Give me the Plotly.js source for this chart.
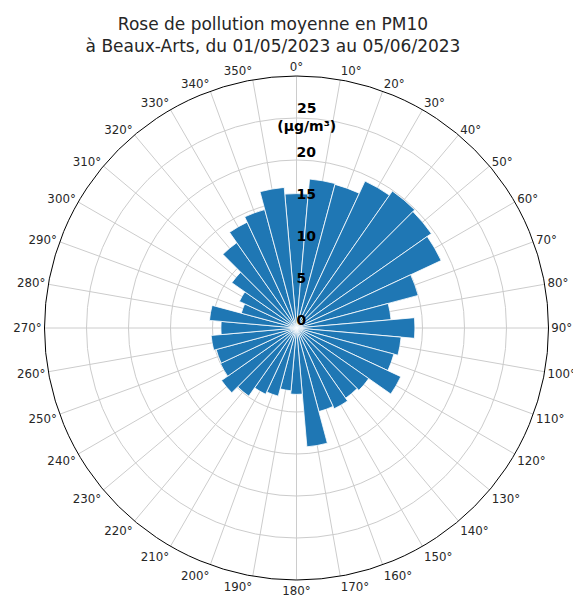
<!DOCTYPE html>
<html><head><meta charset="utf-8">
<script src="https://cdn.plot.ly/plotly-3.0.1.min.js"></script>
<style>html,body{margin:0;padding:0;background:#fff}</style>
</head><body><div id="chart" style="width:573px;height:597px"></div>
<script>
const directions = [0,10,20,30,40,50,60,70,80,90,100,110,120,130,140,150,160,170,180,190,200,210,220,230,240,250,260,270,280,290,300,310,320,330,340,350];
const pm10 = [16.0,17.8,17.7,19.3,19.9,19.6,19.0,15.0,11.3,14.1,12.5,12.0,13.7,10.5,10.2,10.6,10.3,14.2,7.9,7.5,8.4,8.7,9.9,10.9,10.0,9.9,10.2,9.0,10.4,6.8,7.5,9.4,12.4,13.9,14.6,16.8];
const radialTicks = [0,5,10,15,20];
const radialTickText = ['0','5','10','15','20'];
const topTick = [25];
const topTickText = ['25<br>(µg/m³)'];
const angularTicks = directions;
const angularTickText = directions.map(d => d + '°');
const titleText = 'Rose de pollution moyenne en PM10<br>à Beaux-Arts, du 01/05/2023 au 05/06/2023';

const W = 573, H = 597;
const cx = 296.5, cy = 328, R = 252;
const labelFont = {family: 'DejaVu Sans', size: 14, color: '#000000', weight: 'bold'};

const traces = [
  {
    type: 'barpolar',
    r: pm10,
    theta: directions,
    width: directions.map(() => 10),
    marker: {color: '#1f77b4', line: {color: '#ffffff', width: 0.8}},
    hoverinfo: 'skip'
  },
  {
    type: 'scatterpolar',
    mode: 'text',
    r: radialTicks,
    theta: radialTicks.map(() => 0),
    text: radialTickText,
    textposition: 'top right',
    textfont: labelFont,
    cliponaxis: false,
    hoverinfo: 'skip'
  },
  {
    type: 'scatterpolar',
    mode: 'text',
    r: topTick,
    theta: [2.8],
    text: topTickText,
    textposition: 'middle center',
    textfont: labelFont,
    cliponaxis: false,
    hoverinfo: 'skip'
  }
];

const layout = {
  width: W, height: H,
  margin: {l: 0, r: 0, t: 0, b: 0},
  paper_bgcolor: '#ffffff',
  showlegend: false,
  font: {family: 'DejaVu Sans', color: '#262626', size: 12},
  title: {
    text: titleText,
    font: {family: 'DejaVu Sans', size: 17, color: '#262626'},
    x: 273 / W, xanchor: 'center',
    y: 1 - 30 / H, yanchor: 'top', yref: 'container'
  },
  polar: {
    domain: {x: [(cx - R) / W, (cx + R) / W], y: [(H - cy - R) / H, (H - cy + R) / H]},
    bgcolor: '#ffffff',
    bargap: 0,
    angularaxis: {
      direction: 'clockwise',
      rotation: 90,
      tickmode: 'array',
      tickvals: angularTicks,
      ticktext: angularTickText,
      ticks: '',
      showline: true,
      linecolor: '#000000',
      linewidth: 1,
      showgrid: true,
      gridcolor: '#cccccc',
      gridwidth: 1,
      tickfont: {family: 'DejaVu Sans', size: 11.8, color: '#262626'}
    },
    radialaxis: {
      range: [0, 30],
      tickmode: 'array',
      tickvals: [5, 10, 15, 20, 25],
      showticklabels: false,
      ticks: '',
      showline: false,
      showgrid: true,
      gridcolor: '#cccccc',
      gridwidth: 1,
      angle: 90
    }
  }
};

Plotly.newPlot('chart', traces, layout, {displayModeBar: false, staticPlot: true});
</script>
</body></html>
